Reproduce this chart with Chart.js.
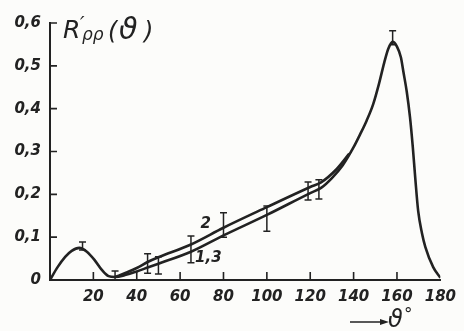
<!DOCTYPE html>
<html>
<head>
<meta charset="utf-8">
<script src="https://cdn.jsdelivr.net/npm/chart.js@4.4.1/dist/chart.umd.min.js"></script>
<style>
  html, body { margin: 0; padding: 0; background: #fcfcfa; }
  canvas { display: block; }
</style>
</head>
<body>
<canvas id="chart" width="464" height="331"></canvas>
<script>
(function () {
  'use strict';

  // curve 1,3 (whole range) and curve 2 (separate between 30 and ~138 deg)
  const angles13 = [0, 3.5, 7, 10, 13.5, 17, 20.5, 24, 27, 30, 35, 40, 45, 50, 65, 80, 100, 120, 125, 130, 135, 140, 143, 146, 149, 151.8, 154.1, 156, 158, 160, 161.8, 163, 164.5, 166, 167.3, 168.4, 169.8, 171.5, 173.1, 176.7, 180];
  const values13 = [0, 0.03, 0.054, 0.068, 0.075, 0.066, 0.047, 0.023, 0.009, 0.007, 0.012, 0.02, 0.029, 0.038, 0.066, 0.104, 0.152, 0.203, 0.215, 0.238, 0.268, 0.31, 0.34, 0.372, 0.41, 0.46, 0.507, 0.54, 0.556, 0.545, 0.52, 0.485, 0.44, 0.38, 0.31, 0.24, 0.16, 0.11, 0.077, 0.03, 0.005];

  const angles2 = [30, 35, 40, 45, 50, 65, 80, 100, 120, 125, 132, 138];
  const values2 = [0.007, 0.017, 0.028, 0.042, 0.053, 0.083, 0.122, 0.17, 0.217, 0.228, 0.258, 0.295];

  // error bars
  const errAngles = [15, 30, 45, 50, 65, 80, 100, 119, 124, 158];
  const errLow = [0.07, 0, 0.016, 0.014, 0.04, 0.1, 0.114, 0.187, 0.189, 0.549];
  const errHigh = [0.089, 0.021, 0.061, 0.054, 0.103, 0.157, 0.173, 0.229, 0.234, 0.582];

  // curve labels
  const labelTexts = ['2', '1,3'];
  const labelAngles = [71.8, 73];
  const labelValues = [0.131, 0.05];

  const ink = '#222222';
  const tickFont = { family: '"DejaVu Sans"', size: 15, style: 'italic', weight: 'bold' };

  function toPoints(xs, ys) {
    return xs.map(function (x, i) { return { x: x, y: ys[i] }; });
  }

  const background = {
    id: 'background',
    beforeDraw: function (chart) {
      const ctx = chart.ctx;
      ctx.save();
      ctx.fillStyle = '#fcfcfa';
      ctx.fillRect(0, 0, chart.width, chart.height);
      ctx.restore();
    },
  };

  const extras = {
    id: 'extras',
    afterDatasetsDraw: function (chart) {
      const ctx = chart.ctx;
      const xs = chart.scales.x;
      const ys = chart.scales.y;
      ctx.save();
      ctx.strokeStyle = ink;
      ctx.fillStyle = ink;

      // inward ticks
      ctx.lineWidth = 1.6;
      ctx.beginPath();
      xs.ticks.forEach(function (t) {
        if (t.value === 0 || t.value === 180) return;
        const px = xs.getPixelForValue(t.value);
        ctx.moveTo(px, ys.bottom);
        ctx.lineTo(px, ys.bottom - 8);
      });
      ys.ticks.forEach(function (t) {
        if (t.value === 0) return;
        const py = ys.getPixelForValue(t.value);
        ctx.moveTo(xs.left, py);
        ctx.lineTo(xs.left + 7, py);
      });
      ctx.stroke();

      // error bars
      ctx.lineWidth = 1.5;
      ctx.beginPath();
      errAngles.forEach(function (a, i) {
        const px = xs.getPixelForValue(a);
        const y1 = ys.getPixelForValue(errLow[i]);
        const y2 = ys.getPixelForValue(errHigh[i]);
        ctx.moveTo(px, y1);
        ctx.lineTo(px, y2);
        ctx.moveTo(px - 3.5, y1);
        ctx.lineTo(px + 3.5, y1);
        ctx.moveTo(px - 3.5, y2);
        ctx.lineTo(px + 3.5, y2);
      });
      ctx.stroke();

      // curve labels
      ctx.font = 'italic bold 15px "DejaVu Sans"';
      ctx.textAlign = 'center';
      ctx.textBaseline = 'middle';
      labelTexts.forEach(function (txt, i) {
        ctx.fillText(txt, xs.getPixelForValue(labelAngles[i]), ys.getPixelForValue(labelValues[i]));
      });

      // y title R'pp(theta)
      ctx.textAlign = 'left';
      ctx.textBaseline = 'alphabetic';
      ctx.font = 'italic 25px "DejaVu Sans"';
      ctx.fillText('R', 63, 38);
      ctx.font = 'italic 20px "DejaVu Sans"';
      ctx.fillText('\u2032', 80, 30);
      ctx.font = 'italic 17px "DejaVu Sans"';
      ctx.fillText('ρρ', 82, 40);
      ctx.font = 'italic 24px "DejaVu Sans"';
      ctx.fillText('(', 108, 39);
      ctx.font = 'italic 30px "DejaVu Sans"';
      ctx.fillText('ϑ', 119, 39);
      ctx.font = 'italic 24px "DejaVu Sans"';
      ctx.fillText(')', 144, 39);

      // x title
      ctx.lineWidth = 1.6;
      ctx.beginPath();
      ctx.moveTo(350, 322);
      ctx.lineTo(383, 322);
      ctx.stroke();
      ctx.beginPath();
      ctx.moveTo(389, 322);
      ctx.lineTo(380, 319);
      ctx.lineTo(380, 325);
      ctx.closePath();
      ctx.fill();
      ctx.font = 'italic 24px "DejaVu Sans"';
      ctx.fillText('ϑ', 388, 327);
      ctx.font = 'italic 17px "DejaVu Sans"';
      ctx.fillText('°', 404, 320);
      ctx.restore();
    },
  };

  new Chart(document.getElementById('chart'), {
    type: 'line',
    data: {
      datasets: [{
        label: '1,3',
        data: toPoints(angles13, values13),
        borderColor: ink,
        borderWidth: 2.6,
        pointRadius: 0,
        cubicInterpolationMode: 'monotone',
      }, {
        label: '2',
        data: toPoints(angles2, values2),
        borderColor: ink,
        borderWidth: 2.6,
        pointRadius: 0,
        cubicInterpolationMode: 'monotone',
      }],
    },
    options: {
      responsive: false,
      animation: false,
      layout: { padding: { top: 23, right: 17, left: 0, bottom: 0 } },
      plugins: { legend: { display: false }, tooltip: { enabled: false } },
      scales: {
        x: {
          type: 'linear',
          min: 0,
          max: 180,
          grid: { display: false, drawTicks: false },
          border: { display: true, color: ink, width: 2 },
          ticks: {
            stepSize: 20,
            color: ink,
            font: tickFont,
            padding: 8,
            maxRotation: 0,
            callback: function (v) { return v === 0 ? '' : v; },
          },
          afterFit: function (s) { s.height = 51; },
        },
        y: {
          min: 0,
          max: 0.6,
          grid: { display: false, drawTicks: false },
          border: { display: true, color: ink, width: 2 },
          ticks: {
            stepSize: 0.1,
            color: ink,
            font: tickFont,
            padding: 9,
            callback: function (v) { return v === 0 ? '0' : v.toFixed(1).replace('.', ','); },
          },
          afterFit: function (s) { s.width = 50; },
        },
      },
    },
    plugins: [background, extras],
  });
})();
</script>
</body>
</html>
